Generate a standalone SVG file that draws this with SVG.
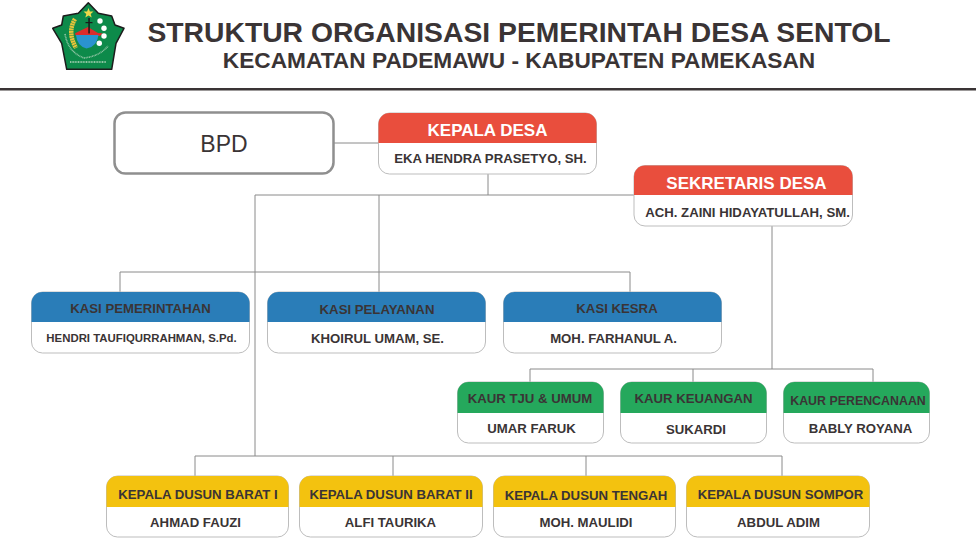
<svg xmlns="http://www.w3.org/2000/svg" width="976" height="538" viewBox="0 0 976 538">
<style>
text{font-family:"Liberation Sans",Arial,sans-serif;text-anchor:middle;fill:#3a3435;font-weight:700}
.body{fill:#fff;stroke:#bdbdbd;stroke-width:1}
.red{fill:#e94e3d}.blue{fill:#2a7db8}.green{fill:#25a85c}.yellow{fill:#f3c20f}
.t-w{fill:#fff;font-size:17px}
.t-h{font-size:13.2px}
.t-n{font-size:13.2px}
.conn{fill:none;stroke:#8a8a8a;stroke-width:1}
</style>
<rect width="976" height="538" fill="#fff"/>
<g id="header">
<text x="519" y="41.500" style="font-size:28.300px">STRUKTUR ORGANISASI PEMERINTAH DESA SENTOL</text>
<text x="519" y="68" style="font-size:22.700px">KECAMATAN PADEMAWU - KABUPATEN PAMEKASAN</text>
<rect x="0" y="88" width="976" height="2.500" fill="#3a3435"/>
</g>
<g id="logo">
<path d="M88.300 2.700 L98.300 13.300 L111.700 16 L115 25 L124 28.300 L116 43.300 L111.700 69.300 L66.700 69.300 L61.700 43.300 L52.700 28.300 L61.700 25 L63.300 16 L78.300 13.300Z" fill="#0d8a4a" stroke="#1c1c1c" stroke-width="1.500" stroke-linejoin="round"/>
<path d="M60 60.800 H110" fill="none" stroke="#d9e8dc" stroke-width="0" />
<path d="M70 62 H106" fill="none" stroke="#8fc4a3" stroke-width="2" stroke-dasharray="1 .6"/>
<path d="M65 34 Q68 52 84 58 Q100 56 108 46" fill="none" stroke="#8fc4a3" stroke-width="1.600" stroke-dasharray="1 .6"/>
<path d="M75 33.300 L88 27 L98 33 L102.700 33.300 L100 36 L76 36Z" fill="#dc2b2b"/>
<path d="M76 35 L98.500 35 Q97 47 86.500 48.500 Q77 46 76 35Z" fill="#2a93cf"/>
<path d="M75 19 Q67 32 76 48" fill="none" stroke="#e9c33a" stroke-width="4.500" stroke-dasharray="2 .5"/>
<rect x="88.300" y="18" width="1.500" height="15.500" fill="#1a1a1a"/>
<rect x="85.500" y="22" width="7" height="1.200" fill="#1a1a1a"/>
<path d="M88.500 8 l1.400 3.400 3.600 .2 -2.800 2.300 1 3.500 -3.200 -2 -3.200 2 1 -3.500 -2.800 -2.300 3.600 -.2z" fill="#f0d94a"/>
<circle cx="100" cy="21" r="2.700" fill="#fff"/><circle cx="104" cy="28.300" r="2.700" fill="#fff"/><circle cx="104" cy="36" r="2.700" fill="#fff"/><circle cx="99.300" cy="43.300" r="2.700" fill="#fff"/>
</g>
<g id="connectors">
<path class="conn" d="M334 143H378"/>
<path class="conn" d="M488 174V195M255 195H634M255 195V456M379 195V292"/>
<path class="conn" d="M120 292V272H630V292"/>
<path class="conn" d="M772 226V369M530 382V369H873V382M693 369V382"/>
<path class="conn" d="M195 476V456H782V476M393 456V476M586 456V476"/>
</g>
<g id="bpd">
<rect x="114.500" y="112.500" width="219" height="61" rx="11" fill="#fff" stroke="#8f8f8f" stroke-width="2.500"/>
<text x="224" y="151.500" style="font-size:23px;font-weight:400">BPD</text>
</g>
<g id="kepala-desa"><rect class="body" x="378.500" y="113" width="218" height="61" rx="11"/><path class="red" d="M378.500 143V124a11 11 0 0 1 11-11H585.500a11 11 0 0 1 11 11V143Z"/><text class="t-w" x="487.500" y="136">KEPALA DESA</text><text class="t-n" x="490.500" y="163">EKA HENDRA PRASETYO, SH.</text></g>
<g id="sekretaris-desa"><rect class="body" x="634" y="165.500" width="218.500" height="60.500" rx="11"/><path class="red" d="M634 195V176.500a11 11 0 0 1 11-11H841.500a11 11 0 0 1 11 11V195Z"/><text class="t-w" x="746.500" y="189">SEKRETARIS DESA</text><text class="t-n" x="747.500" y="217">ACH. ZAINI HIDAYATULLAH, SM.</text></g>
<g id="kasi-pemerintahan"><rect class="body" x="31.500" y="292" width="218" height="61" rx="11"/><path class="blue" d="M31.500 322V303a11 11 0 0 1 11-11H238.500a11 11 0 0 1 11 11V322Z"/><text class="t-h" x="140.500" y="313">KASI PEMERINTAHAN</text><text x="141.500" y="342" style="font-size:11.400px">HENDRI TAUFIQURRAHMAN, S.Pd.</text></g>
<g id="kasi-pelayanan"><rect class="body" x="267.500" y="292" width="218" height="61" rx="11"/><path class="blue" d="M267.500 322V303a11 11 0 0 1 11-11H474.500a11 11 0 0 1 11 11V322Z"/><text class="t-h" x="377" y="314">KASI PELAYANAN</text><text class="t-n" x="377.500" y="343">KHOIRUL UMAM, SE.</text></g>
<g id="kasi-kesra"><rect class="body" x="503.500" y="292" width="218" height="61" rx="11"/><path class="blue" d="M503.500 322V303a11 11 0 0 1 11-11H710.500a11 11 0 0 1 11 11V322Z"/><text class="t-h" x="617" y="313">KASI KESRA</text><text class="t-n" x="613.500" y="343">MOH. FARHANUL A.</text></g>
<g id="kaur-tju"><rect class="body" x="457.500" y="382" width="146" height="61" rx="11"/><path class="green" d="M457.500 413V393a11 11 0 0 1 11-11H592.500a11 11 0 0 1 11 11V413Z"/><text class="t-h" x="530" y="403">KAUR TJU &amp; UMUM</text><text class="t-n" x="531.500" y="433">UMAR FARUK</text></g>
<g id="kaur-keuangan"><rect class="body" x="620.500" y="382" width="146" height="61" rx="11"/><path class="green" d="M620.500 413V393a11 11 0 0 1 11-11H755.500a11 11 0 0 1 11 11V413Z"/><text class="t-h" x="693.500" y="403">KAUR KEUANGAN</text><text class="t-n" x="696" y="434">SUKARDI</text></g>
<g id="kaur-perencanaan"><rect class="body" x="783.500" y="382" width="146" height="61" rx="11"/><path class="green" d="M783.500 413V393a11 11 0 0 1 11-11H918.500a11 11 0 0 1 11 11V413Z"/><text x="858" y="405" style="font-size:12.400px">KAUR PERENCANAAN</text><text class="t-n" x="860.500" y="433">BABLY ROYANA</text></g>
<g id="dusun-barat-1"><rect class="body" x="106.500" y="476" width="182" height="61" rx="11"/><path class="yellow" d="M106.500 507V487a11 11 0 0 1 11-11H277.500a11 11 0 0 1 11 11V507Z"/><text class="t-h" x="198" y="499">KEPALA DUSUN BARAT I</text><text class="t-n" x="195.500" y="527">AHMAD FAUZI</text></g>
<g id="dusun-barat-2"><rect class="body" x="299.500" y="476" width="183" height="61" rx="11"/><path class="yellow" d="M299.500 507V487a11 11 0 0 1 11-11H471.500a11 11 0 0 1 11 11V507Z"/><text class="t-h" x="391" y="499">KEPALA DUSUN BARAT II</text><text class="t-n" x="390.500" y="527">ALFI TAURIKA</text></g>
<g id="dusun-tengah"><rect class="body" x="493.500" y="476" width="182" height="61" rx="11"/><path class="yellow" d="M493.500 507V487a11 11 0 0 1 11-11H664.500a11 11 0 0 1 11 11V507Z"/><text class="t-h" x="586" y="500">KEPALA DUSUN TENGAH</text><text class="t-n" x="586" y="527">MOH. MAULIDI</text></g>
<g id="dusun-sompor"><rect class="body" x="686.500" y="476" width="183" height="61" rx="11"/><path class="yellow" d="M686.500 507V487a11 11 0 0 1 11-11H858.500a11 11 0 0 1 11 11V507Z"/><text class="t-h" x="780.500" y="499">KEPALA DUSUN SOMPOR</text><text class="t-n" x="778.500" y="527">ABDUL ADIM</text></g>
</svg>
